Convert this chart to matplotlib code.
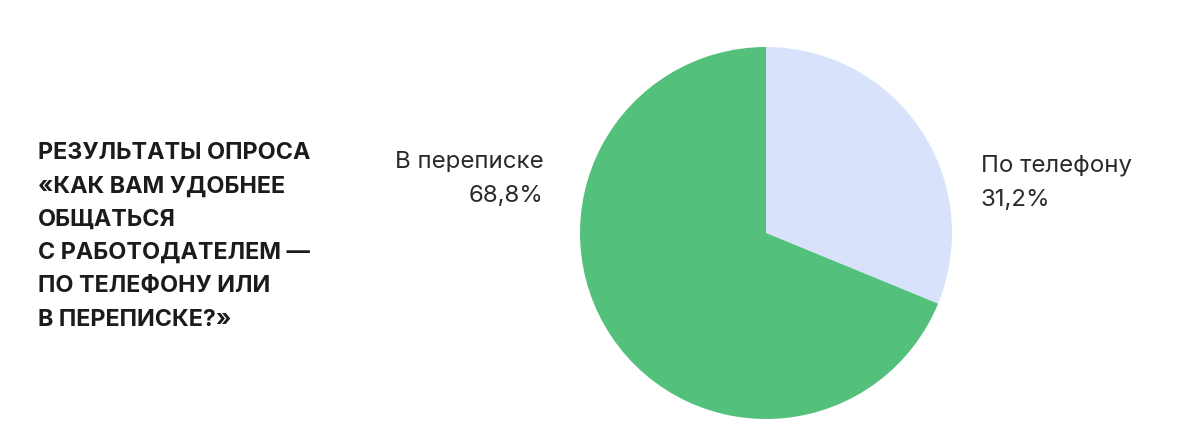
import matplotlib
matplotlib.use("Agg")
import matplotlib.pyplot as plt

categories = ["По телефону", "В переписке"]
values = [31.2, 68.8]
value_labels = ["31,2%", "68,8%"]
colors = ["#d8e2fa", "#53c07b"]
title_lines = ["РЕЗУЛЬТАТЫ ОПРОСА", "«КАК ВАМ УДОБНЕЕ", "ОБЩАТЬСЯ",
               "С РАБОТОДАТЕЛЕМ —", "ПО ТЕЛЕФОНУ ИЛИ", "В ПЕРЕПИСКЕ?»"]

W, H = 1200, 448
fig = plt.figure(figsize=(W / 100, H / 100), dpi=100)
fig.patch.set_facecolor("white")

cx, cy, r = 766, 233, 186
ax = fig.add_axes([(cx - r) / W, (H - cy - r) / H, 2 * r / W, 2 * r / H])
ax.pie(values, colors=colors, startangle=90, counterclock=False, radius=1,
       wedgeprops=dict(linewidth=0))
ax.set_xlim(-1, 1)
ax.set_ylim(-1, 1)
ax.set_aspect("equal")
ax.axis("off")

fam = ["Inter", "DejaVu Sans"]
renderer = fig.canvas.get_renderer()


def fit_size(text, weight, target_px, start=16.0):
    t = fig.text(0, 0, text, fontsize=start, fontweight=weight, family=fam)
    w = t.get_window_extent(renderer).width
    t.remove()
    return start * target_px / w


# title: left block, baselines every ~33.3 px
title_fs = fit_size(title_lines[0], "bold", 273)
for i, line in enumerate(title_lines):
    y = 159 + i * 33.3
    fig.text(38 / W, 1 - y / H, line, ha="left", va="baseline",
             fontsize=title_fs, fontweight="bold", family=fam, color="#1b1b1b")

label_fs = fit_size(categories[1], "normal", 149)
# left label (right aligned)
fig.text(544 / W, 1 - 167.5 / H, categories[1], ha="right", va="baseline",
         fontsize=label_fs, family=fam, color="#2a2a2a")
fig.text(544 / W, 1 - 201.5 / H, value_labels[1], ha="right", va="baseline",
         fontsize=label_fs, family=fam, color="#2a2a2a")
# right label (left aligned)
fig.text(981 / W, 1 - 171.5 / H, categories[0], ha="left", va="baseline",
         fontsize=label_fs, family=fam, color="#2a2a2a")
fig.text(981 / W, 1 - 205.5 / H, value_labels[0], ha="left", va="baseline",
         fontsize=label_fs, family=fam, color="#2a2a2a")

fig.savefig("out.png", dpi=100, facecolor="white")
